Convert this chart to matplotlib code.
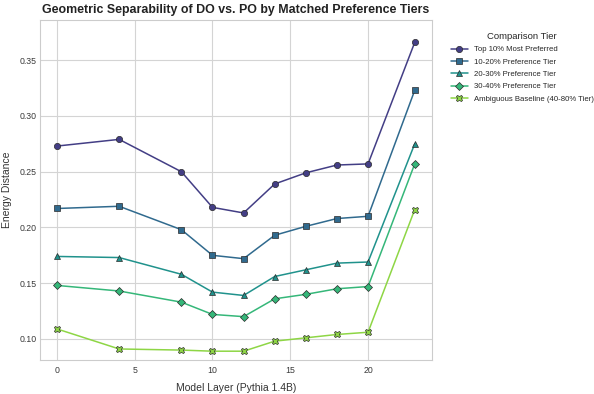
import matplotlib
matplotlib.use("Agg")
import matplotlib.pyplot as plt
import numpy as np
import seaborn as sns

# Data
layers = [0, 4, 8, 10, 12, 14, 16, 18, 20, 23]
tiers = [
    "Top 10% Most Preferred",
    "10-20% Preference Tier",
    "20-30% Preference Tier",
    "30-40% Preference Tier",
    "Ambiguous Baseline (40-80% Tier)",
]
top10 = [0.273, 0.279, 0.250, 0.218, 0.213, 0.239, 0.249, 0.256, 0.257, 0.366]
tier10_20 = [0.217, 0.219, 0.198, 0.175, 0.172, 0.193, 0.201, 0.208, 0.210, 0.323]
tier20_30 = [0.174, 0.173, 0.158, 0.142, 0.139, 0.156, 0.162, 0.168, 0.169, 0.275]
tier30_40 = [0.148, 0.143, 0.133, 0.122, 0.120, 0.136, 0.140, 0.145, 0.147, 0.257]
ambiguous = [0.109, 0.091, 0.090, 0.089, 0.089, 0.098, 0.101, 0.104, 0.106, 0.216]
series = [top10, tier10_20, tier20_30, tier30_40, ambiguous]
markers = ["o", "s", "^", "D", "X"]

sns.set_style("whitegrid")
plt.rcParams["font.family"] = ["Liberation Sans", "DejaVu Sans"]

colors = plt.cm.viridis(np.linspace(0.18, 0.83, 5))

fig, ax = plt.subplots(figsize=(5.94, 3.94), dpi=100)
fig.subplots_adjust(left=0.067, right=0.727, top=0.949, bottom=0.086)

for vals, name, m, c in zip(series, tiers, markers, colors):
    ax.plot(layers, vals, marker=m, color=c, label=name, linewidth=1.1,
            markersize=4.5, markeredgecolor="#2a2a2a", markeredgewidth=0.5)

ax.set_xlim(-1.1, 24.1)
ax.set_ylim(0.081, 0.386)
ax.set_xticks([0, 5, 10, 15, 20])
ax.set_yticks([0.10, 0.15, 0.20, 0.25, 0.30, 0.35])
ax.tick_params(labelsize=6.3, colors="#3a3a3a", length=0, pad=2.5)
ax.tick_params(axis="x", pad=4.5)
ax.grid(True, color="#d4d4d4", linewidth=0.8)
for s in ax.spines.values():
    s.set_color("#cccccc")

ax.set_xlabel("Model Layer (Pythia 1.4B)", fontsize=7.5, color="#333333", labelpad=5.5)
ax.set_ylabel("Energy Distance", fontsize=7.5, color="#333333", labelpad=5)
ax.set_title("Geometric Separability of DO vs. PO by Matched Preference Tiers",
             fontsize=8.9, fontweight="bold", color="#222222", pad=5)

leg = ax.legend(title="Comparison Tier", loc="upper left", bbox_to_anchor=(1.03, 0.985),
                frameon=False, fontsize=5.6, title_fontsize=6.8,
                handlelength=2.2, labelspacing=0.62)

plt.savefig("out.png", dpi=100)
